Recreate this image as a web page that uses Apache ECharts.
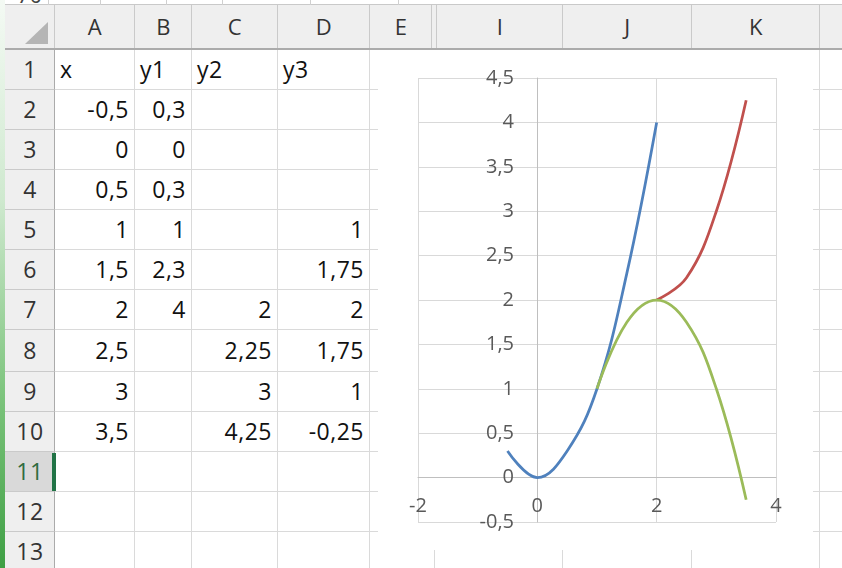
<!DOCTYPE html>
<html><head><meta charset="utf-8">
<script src="https://cdn.jsdelivr.net/npm/echarts@6/dist/echarts.min.js"></script>
<style>
html,body{margin:0;padding:0;background:#fff;}
#page{position:relative;width:842px;height:568px;overflow:hidden;background:#fff;font-family:"Open Sans",sans-serif;}
.a{position:absolute;box-sizing:border-box;}
.t{position:absolute;white-space:nowrap;color:#111;font-size:23px;letter-spacing:0.5px;}
#chartBox{position:absolute;left:378px;top:50px;width:435px;height:500px;background:#fff;border:1px solid #d9d9d9;border-top:none;box-sizing:border-box;z-index:5;}
#chart{position:absolute;left:-1px;top:0;width:435px;height:500px;}
</style></head><body><div id="page"><div id="chartBox"><div id="chart"></div></div></div>
<script>
// ---- data ----
const colHeaders = ['A','B','C','D','E','I','J','K'];
const headerRow = ['x','y1','y2','y3'];
const xs = [-0.5, 0, 0.5, 1, 1.5, 2, 2.5, 3, 3.5];
const y1 = [0.3, 0, 0.3, 1, 2.3, 4, null, null, null];
const y2 = [null, null, null, null, null, 2, 2.25, 3, 4.25];
const y3 = [null, null, null, 1, 1.75, 2, 1.75, 1, -0.25];
const rowNumbers = [1,2,3,4,5,6,7,8,9,10,11,12,13];
const xAxisRange = [-2, 4, 2];
const yAxisRange = [-0.5, 4.5, 0.5];

// ---- layout ----
const page = document.getElementById('page');
function el(cls, css, text){const d=document.createElement('div');d.className=cls;Object.assign(d.style,css);if(text!==undefined)d.textContent=text;page.appendChild(d);return d;}
const rowEdges = [50,90,130,170,210,250,290,330,372,412,452,492,532,572];
const fmt = v => String(v).replace('.', ',');

// top partial strip
el('a',{left:'5px',top:'0',width:'837px',height:'5px',background:'#fff',borderBottom:'1px solid #c9c9c9'});
[48,100,166,222,310,398].forEach(x=>el('a',{left:x+'px',top:'0',width:'1px',height:'5px',background:'#d0d0d0'}));
const s70 = el('a',{left:'5px',top:'0',width:'43px',height:'5px',overflow:'hidden'});
const t70 = document.createElement('div');t70.textContent='70';Object.assign(t70.style,{position:'absolute',left:'12px',top:'-21px',fontSize:'22px',color:'#444'});s70.appendChild(t70);

// sheet grid lines
for (let i=1;i<rowEdges.length;i++) el('a',{left:'55px',top:(rowEdges[i]-1)+'px',width:'787px',height:'1px',background:'#dadada'});
[135,192,278,370,435,563,692,820].forEach(x=>el('a',{left:(x-1)+'px',top:'50px',width:'1px',height:'518px',background:'#dadada'}));

// column header band
el('a',{left:'5px',top:'5px',width:'837px',height:'45px',background:'#efefef',borderBottom:'2px solid #ababab'});
[55,135,192,278,370,432,437,563,692,820].forEach(x=>el('a',{left:(x-1)+'px',top:'5px',width:'1px',height:'43px',background:'#cacaca'}));
// corner triangle
el('a',{left:'25px',top:'22px',width:'0',height:'0',borderLeft:'23px solid transparent',borderBottom:'22px solid #b5b5b5'});
// column letters
const colSpans = [[55,135],[135,192],[192,278],[278,370],[370,432],[437,563],[563,692],[692,820]];
colHeaders.forEach((c,i)=>{const [a,b]=colSpans[i];el('t',{left:a+'px',width:(b-a)+'px',top:'5px',height:'43px',lineHeight:'43px',textAlign:'center',color:'#333',fontSize:'22px'},c);});

// row headers
rowNumbers.forEach((r,i)=>{
  const top=rowEdges[i], h=rowEdges[i+1]-rowEdges[i];
  const sel = r===11;
  el('a',{left:'5px',top:top+'px',width:'50px',height:h+'px',background:sel?'#d9d9d9':'#efefef',borderBottom:'1px solid #cacaca',borderRight:'1px solid #ababab'});
  el('t',{left:'5px',width:'50px',top:top+'px',height:h+'px',lineHeight:(h-2)+'px',textAlign:'center',color:sel?'#2f6b3f':'#333'},String(r));
});
// active cell marker
el('a',{left:'52px',top:'453px',width:'4px',height:'38px',background:'#217346'});
// left green window edge
el('a',{left:'0',top:'0',width:'5px',height:'568px',background:'linear-gradient(#f4faf4 0%,#cfe9cf 35%,#7cc47c 70%,#3f9f44 100%)'});

// cells
function cell(col,row,text,align){
  const [a,b]=colSpans[col];const top=rowEdges[row-1],h=rowEdges[row]-top;
  const css={top:top+'px',height:h+'px',lineHeight:(h-2)+'px'};
  if(align==='left'){css.left=(a+5)+'px';}else{css.right=(842-b+6)+'px';}
  el('t',css,text);
}
headerRow.forEach((h,i)=>cell(i,1,h,'left'));
const cols=[xs,y1,y2,y3];
xs.forEach((_,ri)=>cols.forEach((arr,ci)=>{if(arr[ri]!==null)cell(ci,ri+2,fmt(arr[ri]),'right');}));

// ---- chart ----
const pairs = ys => xs.map((x,i)=>[x,ys[i]]).filter(p=>p[1]!==null);
const chart = echarts.init(document.getElementById('chart'));
const axisLabel = {color:'#595959',fontSize:20,fontFamily:'Open Sans',formatter:v=>fmt(v)};
const SM = 0.4;
chart.setOption({
  animation:false,
  backgroundColor:'#fff',
  grid:{left:40,right:37,top:28,bottom:28,containLabel:false,outerBoundsMode:'none'},
  xAxis:{type:'value',min:xAxisRange[0],max:xAxisRange[1],interval:xAxisRange[2],
    axisLine:{onZero:true,lineStyle:{color:'#bfbfbf',width:1}},axisTick:{show:false},
    splitLine:{show:true,lineStyle:{color:'#d9d9d9',width:1}},
    axisLabel:Object.assign({margin:-26},axisLabel)},
  yAxis:{type:'value',min:yAxisRange[0],max:yAxisRange[1],interval:yAxisRange[2],
    axisLine:{show:true,onZero:true,lineStyle:{color:'#bfbfbf',width:1}},axisTick:{show:false},
    splitLine:{show:true,lineStyle:{color:'#d9d9d9',width:1}},
    axisLabel:Object.assign({margin:-96},axisLabel)},
  series:[
    {name:'y1',type:'line',data:pairs(y1),smooth:SM,showSymbol:false,lineStyle:{color:'#4F81BD',width:2.75},itemStyle:{color:'#4F81BD'}},
    {name:'y2',type:'line',data:pairs(y2),smooth:SM,showSymbol:false,lineStyle:{color:'#C0504D',width:2.75},itemStyle:{color:'#C0504D'}},
    {name:'y3',type:'line',data:pairs(y3),smooth:SM,showSymbol:false,lineStyle:{color:'#9BBB59',width:2.75},itemStyle:{color:'#9BBB59'}}
  ]
});
</script></body></html>
